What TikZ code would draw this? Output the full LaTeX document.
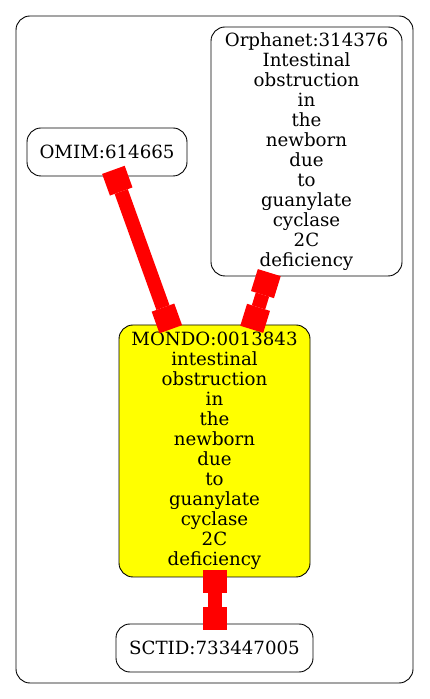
\documentclass[tikz,border=0pt]{standalone}
\usepackage{fontspec}
\setmainfont{DejaVu Serif}
\usepackage{tikz}
\usetikzlibrary{arrows.meta}
\definecolor{termyellow}{RGB}{255,255,0}
\definecolor{linkred}{RGB}{255,0,0}

\begin{document}
\begin{tikzpicture}[x=1pt, y=1pt,
    term/.style={rectangle, rounded corners=14pt, draw, line width=0.9pt, align=center, inner sep=0pt, font=\fontsize{18.2}{20}\selectfont},
    link/.style={{Square[length=23pt, width=24pt, line width=0pt]}-{Square[length=23pt, width=24pt, line width=0pt]}, linkred, line width=14pt}
  ]

    \useasboundingbox (0,0) rectangle (429,699);

    % Frame
    \draw[line width=0.9pt, rounded corners=14pt] (16,16) rectangle (413,683);

    % Terms
    \node[term, minimum width=160pt, minimum height=48pt] (omim) at (107,547) {OMIM:614665};
    \node[term, minimum width=191pt, minimum height=249pt] (orpha) at (306.5,547.5) {Orphanet:314376\\Intestinal\\obstruction\\in\\the\\newborn\\due\\to\\guanylate\\cyclase\\2C\\deficiency};
    \node[term, fill=termyellow, minimum width=191pt, minimum height=252pt] (mondo) at (214.5,248) {MONDO:0013843\\intestinal\\obstruction\\in\\the\\newborn\\due\\to\\guanylate\\cyclase\\2C\\deficiency};
    \node[term, minimum width=197pt, minimum height=48pt] (sctid) at (214.5,51) {SCTID:733447005};

    % Links
    \draw[link, shorten <=-7pt, shorten >=-5pt] (omim) -- (mondo);
    \draw[link, shorten <=-4pt, shorten >=-5pt] (orpha) -- (mondo);
    \draw[link, shorten <=-7pt, shorten >=-6pt] (mondo) -- (sctid);

  \end{tikzpicture}
\end{document}
